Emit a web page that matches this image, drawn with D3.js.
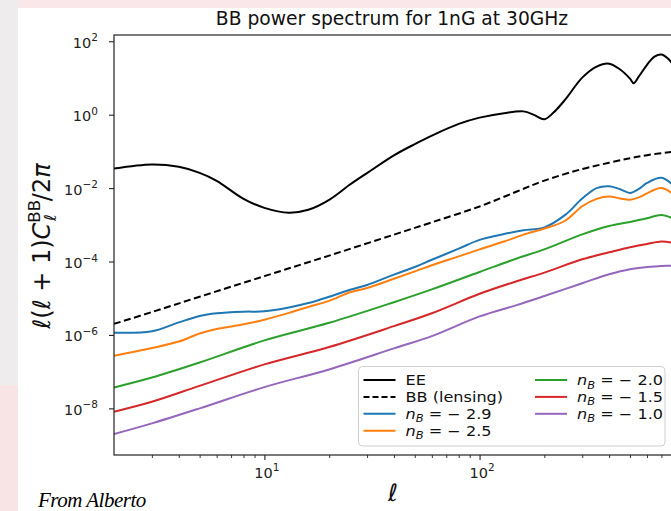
<!DOCTYPE html>
<html>
<head>
<meta charset="utf-8">
<script src="https://cdn.jsdelivr.net/npm/d3@7"></script>
<style>
  body { margin: 0; background: #fff; }
  svg { display: block; font-family: "DejaVu Sans", sans-serif; }
</style>
</head>
<body>
<div id="wrapper"></div>
<script>
// values, l(l+1)C_l/2pi
const ellEE = [2, 3, 4, 5, 6, 8, 10, 13, 16, 20, 25, 30, 40, 50, 60, 80, 100, 130, 160, 180, 200, 220, 250, 300, 350, 400, 450, 500, 520, 550, 600, 650, 700, 750, 800]
const clEE = [3.4e-2, 4.4e-2, 3.8e-2, 2.6e-2, 1.58e-2, 5.1e-3, 2.9e-3, 2.14e-3, 2.57e-3, 4.8e-3, 1.25e-2, 2.57e-2, 7.8e-2, 0.158, 0.269, 0.56, 0.83, 1.10, 1.23, 0.97, 0.75, 1.12, 2.57, 10.2, 20.4, 24.5, 17.0, 9.6, 7.2, 11.0, 22.9, 38, 43.7, 33.9, 21.9]

const ellBB = [2, 3, 5, 10, 20, 40, 60, 100, 150, 200, 300, 400, 500, 600, 800]
const clBB = [2.0e-6, 4.2e-6, 1.1e-5, 4.0e-5, 1.45e-4, 5.4e-4, 1.17e-3, 3.16e-3, 8.2e-3, 1.6e-2, 3.3e-2, 4.9e-2, 6.5e-2, 7.9e-2, 9.8e-2]

const ellSteep = [2, 3, 4, 5, 6, 8, 10, 13, 16, 20, 25, 30, 40, 50, 60, 80, 100, 130, 160, 200, 250, 300, 350, 400, 450, 500, 550, 600, 700, 800]
const nB29 = [1.15e-6, 1.26e-6, 2.2e-6, 3.3e-6, 3.9e-6, 4.3e-6, 4.4e-6, 5.6e-6, 7.4e-6, 1.1e-5, 1.7e-5, 2.3e-5, 4.4e-5, 7.1e-5, 1.12e-4, 2.24e-4, 3.9e-4, 5.6e-4, 7.1e-4, 8.5e-4, 1.86e-3, 5.2e-3, 1.0e-2, 1.12e-2, 9.3e-3, 7.4e-3, 9.5e-3, 1.38e-2, 1.9e-2, 1.15e-2]
const nB25 = [2.7e-7, 4.4e-7, 6.6e-7, 1.1e-6, 1.45e-6, 1.95e-6, 2.6e-6, 4.0e-6, 5.8e-6, 8.5e-6, 1.45e-5, 1.9e-5, 3.4e-5, 5.4e-5, 7.9e-5, 1.38e-4, 2.14e-4, 3.5e-4, 5.4e-4, 7.9e-4, 1.29e-3, 3.2e-3, 5.1e-3, 5.9e-3, 5.2e-3, 4.8e-3, 5.6e-3, 7.2e-3, 1.0e-2, 6.6e-3]

const ellFlat = [2, 3, 5, 10, 20, 40, 60, 100, 150, 200, 300, 400, 500, 600, 700, 800]
const nB20 = [3.7e-8, 6.9e-8, 1.78e-7, 7.1e-7, 2.14e-6, 7.8e-6, 1.74e-5, 5.2e-5, 1.23e-4, 2.14e-4, 5.5e-4, 9.3e-4, 1.2e-3, 1.5e-3, 1.86e-3, 1.45e-3]
const nB15 = [8.1e-9, 1.51e-8, 4.1e-8, 1.58e-7, 4.7e-7, 1.74e-6, 3.9e-6, 1.32e-5, 2.95e-5, 5.0e-5, 1.15e-4, 1.78e-4, 2.45e-4, 3.0e-4, 3.5e-4, 3.2e-4]
const nB10 = [2.0e-9, 3.9e-9, 1.0e-8, 3.8e-8, 1.15e-7, 4.3e-7, 9.3e-7, 3.2e-6, 6.6e-6, 1.15e-5, 2.57e-5, 4.5e-5, 6.2e-5, 7.1e-5, 7.6e-5, 7.6e-5]

const nBLabels = ["\u22122.9", "\u22122.5", "\u22122.0", "\u22121.5", "\u22121.0"]
const colors = ["#1f77b4", "#ff7f0e", "#2ca02c", "#d62728", "#9467bd"]
const yTicks = [1e2, 1, 1e-2, 1e-4, 1e-6, 1e-8]
const xTicks = [10, 100]

let dimensions = {
    width: 671,
    height: 511,
    margin: {
        top: 35,
        left: 114,
    }
}
dimensions.boundedWidth = 558
dimensions.boundedHeight = 420

const xScale = d3.scaleLog()
    .domain([2, 784])
    .range([0, dimensions.boundedWidth])

const yScale = d3.scaleLog()
    .domain([5.37e-10, 148])
    .range([dimensions.boundedHeight, 0])

const wrapper = d3.select("#wrapper")
    .append("svg")
    .attr("width", dimensions.width)
    .attr("height", dimensions.height)

// slide background round the figure
wrapper.append("rect").attr("width", 671).attr("height", 511).attr("fill", "#fff")
wrapper.append("rect").attr("width", 18).attr("height", 385).attr("fill", "#eeecec")
wrapper.append("rect").attr("y", 385).attr("width", 18).attr("height", 126).attr("fill", "#f9e4e5")
wrapper.append("rect").attr("x", 18).attr("width", 653).attr("height", 8).attr("fill", "#fae7e9")

const bounds = wrapper.append("g")
    .attr("transform", `translate(${dimensions.margin.left}, ${dimensions.margin.top})`)

bounds.append("clipPath").attr("id", "plot-clip")
    .append("rect")
    .attr("width", dimensions.boundedWidth)
    .attr("height", dimensions.boundedHeight)

const lineGen = d3.line()
    .x(d => xScale(d[0]))
    .y(d => yScale(d[1]))
    .curve(d3.curveCatmullRom.alpha(0.5))

const series = [
    { ell: ellSteep, cl: nB29, color: colors[0] },
    { ell: ellSteep, cl: nB25, color: colors[1] },
    { ell: ellFlat, cl: nB20, color: colors[2] },
    { ell: ellFlat, cl: nB15, color: colors[3] },
    { ell: ellFlat, cl: nB10, color: colors[4] },
]

const curves = bounds.append("g").attr("clip-path", "url(#plot-clip)")

curves.append("path")
    .attr("d", lineGen(d3.zip(ellEE, clEE)))
    .attr("fill", "none").attr("stroke", "#000").attr("stroke-width", 2)

curves.append("path")
    .attr("d", lineGen(d3.zip(ellBB, clBB)))
    .attr("fill", "none").attr("stroke", "#000").attr("stroke-width", 2)
    .attr("stroke-dasharray", "7,3.5")

series.forEach(s => {
    curves.append("path")
        .attr("d", lineGen(d3.zip(s.ell, s.cl)))
        .attr("fill", "none").attr("stroke", s.color).attr("stroke-width", 2)
})

// axes
const supText = (sel, d) => {
    const e = Math.round(Math.log10(d))
    sel.append("tspan").text("10")
    sel.append("tspan").attr("dy", -6.5).attr("font-size", 10.5)
        .text(e < 0 ? "\u2212" + Math.abs(e) : e)
}

const yAxis = d3.axisLeft(yScale).tickValues(yTicks).tickSize(5).tickSizeOuter(0).tickFormat("")
const yAxisG = bounds.append("g").call(yAxis)
yAxisG.select(".domain").remove()
yAxisG.selectAll(".tick line").attr("stroke", "#222").attr("stroke-width", 1.1)
yAxisG.selectAll(".tick").each(function (d) {
    const t = d3.select(this).append("text")
        .attr("x", -16).attr("y", 6)
        .attr("text-anchor", "end")
        .attr("fill", "#222")
        .attr("font-size", 14.5)
        .attr("font-family", "DejaVu Sans")
    supText(t, d)
})

const xAxisMajor = d3.axisBottom(xScale).tickValues(xTicks).tickSize(5).tickSizeOuter(0).tickFormat("")
const xAxisG = bounds.append("g")
    .attr("transform", `translate(0, ${dimensions.boundedHeight})`)
    .call(xAxisMajor)
xAxisG.select(".domain").remove()
xAxisG.selectAll(".tick line").attr("stroke", "#222").attr("stroke-width", 1.1)
xAxisG.selectAll(".tick").each(function (d) {
    const t = d3.select(this).append("text")
        .attr("x", 2).attr("y", 22.5)
        .attr("text-anchor", "middle")
        .attr("fill", "#222")
        .attr("font-size", 14.5)
        .attr("font-family", "DejaVu Sans")
    supText(t, d)
})

const minorTicks = xScale.ticks().filter(d => d > 2 && Math.abs(Math.log10(d) - Math.round(Math.log10(d))) > 1e-6)
const xAxisMinor = d3.axisBottom(xScale).tickValues(minorTicks).tickSize(3).tickSizeOuter(0).tickFormat("")
const xMinorG = bounds.append("g")
    .attr("transform", `translate(0, ${dimensions.boundedHeight})`)
    .call(xAxisMinor)
xMinorG.select(".domain").remove()
xMinorG.selectAll(".tick line").attr("stroke", "#222").attr("stroke-width", 0.9)

// spines
bounds.append("rect")
    .attr("width", dimensions.boundedWidth)
    .attr("height", dimensions.boundedHeight)
    .attr("fill", "none")
    .attr("stroke", "#222")
    .attr("stroke-width", 1.2)

// legend
const legend = wrapper.append("g").attr("transform", "translate(358.5, 366.5)")
legend.append("rect")
    .attr("width", 306.5).attr("height", 79.5).attr("rx", 4)
    .attr("fill", "#fff").attr("fill-opacity", 0.85)
    .attr("stroke", "#cfcfcf")

const legendItems = [
    { col: 0, row: 0, color: "#000", dash: null, label: "EE" },
    { col: 0, row: 1, color: "#000", dash: "6,3", label: "BB (lensing)" },
    { col: 0, row: 2, color: colors[0], nB: nBLabels[0] },
    { col: 0, row: 3, color: colors[1], nB: nBLabels[1] },
    { col: 1, row: 0, color: colors[2], nB: nBLabels[2] },
    { col: 1, row: 1, color: colors[3], nB: nBLabels[3] },
    { col: 1, row: 2, color: colors[4], nB: nBLabels[4] },
]
const rowY = d3.scaleLinear().domain([0, 3]).range([13.5, 64.2])
const colX = [5, 176.5]

legendItems.forEach(item => {
    const g = legend.append("g")
        .attr("transform", `translate(${colX[item.col]}, ${rowY(item.row)})`)
    g.append("line")
        .attr("x1", 0).attr("x2", 32)
        .attr("stroke", item.color).attr("stroke-width", 2)
        .attr("stroke-dasharray", item.dash)
    // the slide shot is a little wider than tall, so the text is widened
    const t = g.append("text")
        .attr("transform", "translate(42, 5) scale(1.15, 1)")
        .attr("font-size", 14)
        .attr("fill", "#111")
    if (item.label) {
        t.text(item.label)
    } else {
        t.append("tspan").attr("font-style", "italic").text("n")
        t.append("tspan").attr("font-style", "italic").attr("font-size", 10).attr("dy", 3.5).text("B")
        t.append("tspan").attr("dy", -3.5).text(" = " + item.nB.replace("\u2212", "\u2212 "))
    }
})

// title and labels
wrapper.append("text")
    .attr("x", 392).attr("y", 25)
    .attr("text-anchor", "middle")
    .attr("font-size", 18.7)
    .attr("fill", "#111")
    .text("BB power spectrum for 1nG at 30GHz")

wrapper.append("text")
    .attr("x", 393).attr("y", 501)
    .attr("text-anchor", "middle")
    .attr("font-size", 24)
    .attr("font-style", "italic")
    .attr("fill", "#111")
    .text("\u2113")

const yLabel = wrapper.append("text")
    .attr("transform", "translate(50, 246) rotate(-90)")
    .attr("text-anchor", "middle")
    .attr("font-size", 24)
    .attr("fill", "#111")
yLabel.append("tspan").attr("font-style", "italic").text("\u2113")
yLabel.append("tspan").text("(")
yLabel.append("tspan").attr("font-style", "italic").text("\u2113")
yLabel.append("tspan").text(" + 1)")
yLabel.append("tspan").attr("font-style", "italic").text("C")
yLabel.append("tspan").attr("font-size", 16.5).attr("dy", -10).text("BB")
yLabel.append("tspan").attr("font-size", 16.5).attr("font-style", "italic").attr("dx", -21).attr("dy", 16).text("\u2113")
yLabel.append("tspan").attr("dx", 13).attr("dy", -6).text("/2")
yLabel.append("tspan").attr("font-style", "italic").text("\u03c0")

wrapper.append("text")
    .attr("x", 38).attr("y", 507)
    .attr("font-size", 21)
    .attr("font-style", "italic")
    .attr("font-family", "Liberation Serif")
    .attr("letter-spacing", -0.5)
    .attr("fill", "#000")
    .text("From Alberto")
</script>
</body>
</html>
